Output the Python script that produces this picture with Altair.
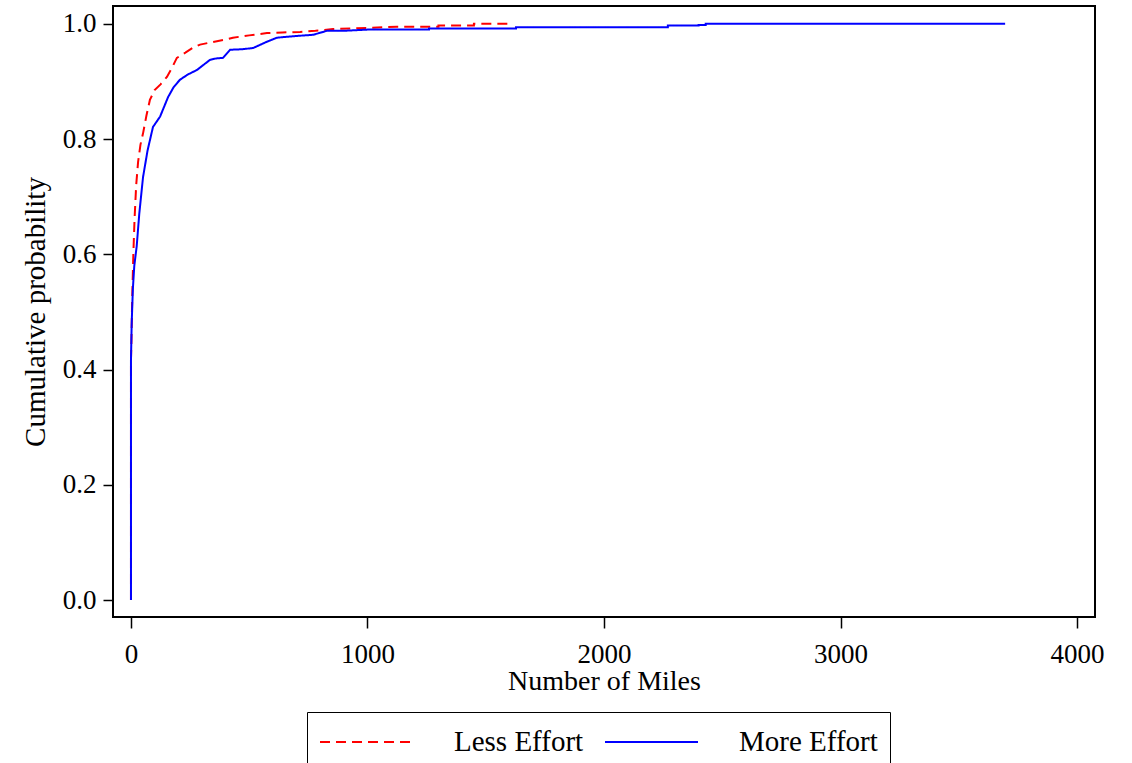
import altair as alt
import pandas as pd

# Empirical cumulative distribution of miles, by effort group
less_miles = [0, 0, 2, 5, 10, 15, 22, 30, 40, 51, 65, 80, 100, 125, 152, 175, 194,
              230, 260, 292, 340, 390, 431, 500, 575, 640, 715, 780, 854, 1000,
              1125, 1300, 1300, 1450, 1450, 1611]
less_prob = [0, 0.417, 0.45, 0.52, 0.60, 0.66, 0.72, 0.76, 0.79, 0.81, 0.84, 0.868,
             0.885, 0.895, 0.908, 0.925, 0.941, 0.95, 0.958, 0.964, 0.968, 0.972,
             0.976, 0.98, 0.984, 0.985, 0.986, 0.988, 0.991, 0.993, 0.995, 0.995,
             0.997, 0.997, 1.0, 1.0]

more_miles = [0, 0, 3, 8, 14, 20, 24, 35, 51, 70, 93, 123, 157, 180, 207, 240, 279,
              334, 360, 389, 419, 470, 516, 575, 617, 700, 770, 829, 900, 1000,
              1260, 1260, 1628, 1628, 2270, 2270, 2400, 2400, 2430, 2430, 3696]
more_prob = [0, 0.417, 0.48, 0.54, 0.58, 0.60, 0.613, 0.67, 0.734, 0.78, 0.821,
             0.839, 0.873, 0.89, 0.903, 0.912, 0.920, 0.9375, 0.94, 0.941, 0.955,
             0.956, 0.958, 0.969, 0.976, 0.979, 0.981, 0.988, 0.988, 0.990, 0.990,
             0.992, 0.992, 0.994, 0.994, 0.997, 0.997, 0.998, 0.998, 1.0, 1.0]

groups = ["Less Effort", "More Effort"]
x_ticks = [0, 1000, 2000, 3000, 4000]
y_ticks = [0.0, 0.2, 0.4, 0.6, 0.8, 1.0]

rows = []
for i, (m, p) in enumerate(zip(less_miles, less_prob)):
    rows.append({"group": groups[0], "order": i, "miles": m, "prob": p})
for i, (m, p) in enumerate(zip(more_miles, more_prob)):
    rows.append({"group": groups[1], "order": i, "miles": m, "prob": p})
df = pd.DataFrame(rows)

FONT = "Liberation Serif"

legend_opts = dict(
    orient="none", legendX=194, legendY=706, direction="horizontal",
    symbolType="stroke", symbolSize=8649, symbolStrokeWidth=2, clipHeight=36,
    labelFontSize=29, labelOffset=40, columnPadding=20, padding=12,
    strokeColor="black",
)

chart = alt.Chart(df).mark_line(strokeWidth=2).encode(
    x=alt.X("miles:Q",
            scale=alt.Scale(domain=[-76, 4076], nice=False, zero=False),
            axis=alt.Axis(title="Number of Miles", values=x_ticks, format="d",
                          grid=False, domain=False, tickSize=11, tickColor="black",
                          tickWidth=1.5, labelPadding=13, titlePadding=0,
                          labelFontSize=27, titleFontSize=28)),
    y=alt.Y("prob:Q",
            scale=alt.Scale(domain=[-0.0295, 1.031], nice=False, zero=False),
            axis=alt.Axis(title="Cumulative probability", values=y_ticks, format=".1f",
                          grid=False, domain=False, tickSize=10, tickColor="black",
                          tickWidth=1.5, labelPadding=7, titlePadding=12,
                          labelFontSize=27, titleFontSize=29)),
    color=alt.Color("group:N", title=None,
                    scale=alt.Scale(domain=groups, range=["#ff0000", "#0000ff"]),
                    legend=alt.Legend(**legend_opts)),
    strokeDash=alt.StrokeDash("group:N", title=None,
                              scale=alt.Scale(domain=groups, range=[[10, 6], [1, 0]]),
                              legend=alt.Legend(**legend_opts)),
    order="order:Q",
).properties(
    width=982,
    height=611,
    autosize=alt.AutoSizeParams(type="none"),
    padding={"left": 113, "top": 6, "right": 37, "bottom": 146},
).configure(
    font=FONT,
).configure_view(
    stroke="black", strokeWidth=2,
).configure_axis(
    labelFont=FONT, titleFont=FONT, labelColor="black", titleColor="black",
    titleFontWeight="normal",
).configure_legend(
    labelFont=FONT, labelColor="black",
)

chart.save("out.html", embed_options={"renderer": "svg", "actions": False})
